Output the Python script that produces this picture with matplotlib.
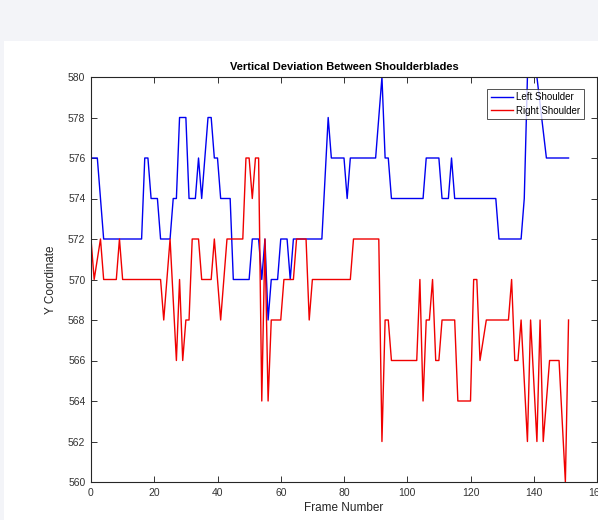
import matplotlib
matplotlib.use("Agg")
import matplotlib.pyplot as plt
from matplotlib.patches import Rectangle

# Vertex data (frame, y coordinate)
left_frames = [0, 2, 4, 16, 17, 18, 19, 21, 22, 25, 26, 27, 28, 30, 31, 33, 34, 35,
               37, 38, 39, 40, 41, 44, 45, 50, 51, 53, 54, 55, 56, 57, 59, 60, 62,
               63, 64, 73, 75, 76, 80, 81, 82, 90, 92, 93, 94, 95, 105, 106, 110,
               111, 113, 114, 115, 128, 129, 136, 137, 138, 141, 144, 151]
left_values = [576, 576, 572, 572, 576, 576, 574, 574, 572, 572, 574, 574, 578, 578,
               574, 574, 576, 574, 578, 578, 576, 576, 574, 574, 570, 570, 572, 572,
               570, 572, 568, 570, 570, 572, 572, 570, 572, 572, 578, 576, 576, 574,
               576, 576, 580, 576, 576, 574, 574, 576, 576, 574, 574, 576, 574, 574,
               572, 572, 574, 580, 580, 576, 576]

right_frames = [0, 1, 3, 4, 8, 9, 10, 22, 23, 25, 27, 28, 29, 30, 31, 32, 34, 35,
                38, 39, 41, 43, 48, 49, 50, 51, 52, 53, 54, 55, 56, 57, 60, 61, 64,
                65, 68, 69, 70, 82, 83, 91, 92, 93, 94, 95, 103, 104, 105, 106, 107,
                108, 109, 110, 111, 115, 116, 120, 121, 122, 123, 125, 132, 133, 134,
                135, 136, 138, 139, 141, 142, 143, 145, 148, 150, 151]
right_values = [572, 570, 572, 570, 570, 572, 570, 570, 568, 572, 566, 570, 566,
                568, 568, 572, 572, 570, 570, 572, 568, 572, 572, 576, 576, 574,
                576, 576, 564, 572, 564, 568, 568, 570, 570, 572, 572, 568, 570,
                570, 572, 572, 562, 568, 568, 566, 566, 570, 564, 568, 568, 570,
                566, 566, 568, 568, 564, 564, 570, 570, 566, 568, 568, 570, 566,
                566, 568, 562, 568, 562, 568, 562, 566, 566, 560, 568]

x_ticks = [0, 20, 40, 60, 80, 100, 120, 140, 160]
y_ticks = [560, 562, 564, 566, 568, 570, 572, 574, 576, 578, 580]

plt.rcParams['font.family'] = ['Liberation Sans', 'DejaVu Sans']

W, H = 598, 520
fig = plt.figure(figsize=(W / 100, H / 100), dpi=100, facecolor='#f3f4f8')
fig.patches.append(Rectangle((4 / W, 0), 1 - 4 / W, (H - 41) / H,
                             transform=fig.transFigure, facecolor='white',
                             edgecolor='none', zorder=-10))

ax = fig.add_axes([91 / W, (H - 482) / H, (597 - 91) / W, (482 - 77) / H])
ax.set_zorder(1)
ax.plot(left_frames, left_values, color='#0000f0', lw=1.0, label='Left Shoulder')
ax.plot(right_frames, right_values, color='#f00000', lw=1.0, label='Right Shoulder')

ax.set_xlim(0, 160)
ax.set_ylim(560, 580)
ax.set_xticks(x_ticks)
ax.set_yticks(y_ticks)
ax.tick_params(direction='in', length=4, width=0.7, top=True, right=True,
               labelsize=7.5, colors='#333333', pad=4)
for s in ax.spines.values():
    s.set_linewidth(0.8)
    s.set_color('#262626')

ax.set_title('Vertical Deviation Between Shoulderblades', fontsize=8,
             fontweight='bold', pad=5, color='black')
ax.set_xlabel('Frame Number', fontsize=8.5, labelpad=3, color='#262626')
ax.set_ylabel('Y Coordinate', fontsize=8.5, labelpad=8, color='#262626')

leg = ax.legend(loc='upper right', bbox_to_anchor=(584 / W, (H - 89) / H),
                bbox_transform=fig.transFigure, fontsize=7, frameon=True,
                fancybox=False, borderpad=0.35, handlelength=2.3,
                handletextpad=0.35, labelspacing=0.35, borderaxespad=0)
leg.get_frame().set_edgecolor('#262626')
leg.get_frame().set_linewidth(0.7)

fig.savefig('out.png', dpi=100, facecolor=fig.get_facecolor())
